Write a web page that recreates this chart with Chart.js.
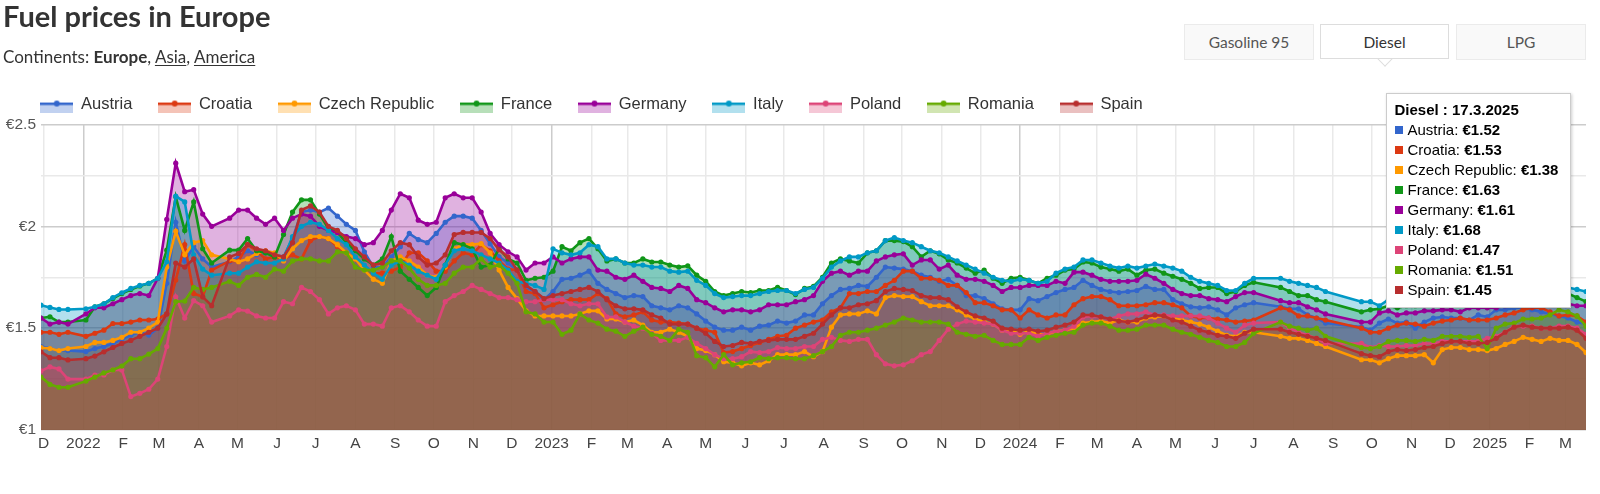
<!DOCTYPE html>
<html>
<head>
<meta charset="utf-8">
<title>Fuel prices in Europe</title>
<script src="https://cdn.jsdelivr.net/npm/chart.js@4/dist/chart.umd.js"></script>
<style>
  html, body { margin: 0; padding: 0; background: #fff; }
  #page { position: relative; width: 1600px; height: 494px; overflow: hidden; font-family: Lato, sans-serif; color: #333; }
  #chartBox { position: absolute; left: 0; top: 0; width: 1600px; height: 494px; }
  h1 { position: absolute; left: 3px; top: -2px; margin: 0; font-size: 29px; line-height: 36px; font-weight: 700; color: #333; }
  #continents { position: absolute; left: 3px; top: 45px; font-size: 17px; line-height: 24px; color: #333; }
  #continents u { text-underline-offset: 2px; }
  .tab { position: absolute; top: 24px; width: 128px; height: 34px; line-height: 34px; text-align: center; font-size: 15.5px; color: #555; background: #f9f9f9; border: 1px solid #ebebeb; }
  .tab.on { background: #fff; color: #333; border: 1.5px solid #ddd; width: 127px; height: 33px; }
  #arrow { position: absolute; left: 1379px; top: 53px; width: 11px; height: 11px; background: #fff; border-right: 1.5px solid #ddd; border-bottom: 1.5px solid #ddd; transform: rotate(45deg) scale(0.9, 0.9); }
  #tip { position: absolute; left: 1386px; top: 93px; width: 185px; height: 215px; box-sizing: border-box; background: #fff; border: 1.5px solid #ccc; box-shadow: 1px 1px 3px rgba(0,0,0,0.2); padding: 6px 0 0 7.5px; font-family: "Liberation Sans", Arial, sans-serif; font-size: 15px; line-height: 20px; color: #000; white-space: nowrap; }
  #tip i { display: inline-block; width: 8.5px; height: 8.5px; margin-right: 4.5px; vertical-align: 1px; }
</style>
</head>
<body>
<div id="page">
  <div id="chartBox"><canvas id="fuelChart"></canvas></div>
  <h1>Fuel prices in Europe</h1>
  <div id="continents">Continents: <b>Europe</b>, <u>Asia</u>, <u>America</u></div>
  <div class="tab" style="left:1184px">Gasoline 95</div>
  <div id="arrow"></div>
  <div class="tab on" style="left:1320px">Diesel</div>
  <div class="tab" style="left:1456px">LPG</div>
  <div id="tip"></div>
</div>
<script>
const dates = [
  "2021-11-29","2021-12-06","2021-12-13","2021-12-20","2022-01-03","2022-01-10","2022-01-17","2022-01-24","2022-01-31","2022-02-07","2022-02-14","2022-02-21","2022-02-28","2022-03-07","2022-03-14","2022-03-21","2022-03-28","2022-04-04","2022-04-11","2022-04-25","2022-05-02","2022-05-09","2022-05-16",
  "2022-05-23","2022-05-30","2022-06-06","2022-06-13","2022-06-20","2022-06-27","2022-07-04","2022-07-11","2022-07-18","2022-07-25","2022-08-01","2022-08-08","2022-08-15","2022-08-22","2022-08-29","2022-09-05","2022-09-12","2022-09-19","2022-09-26","2022-10-03","2022-10-10","2022-10-17","2022-10-24","2022-10-31",
  "2022-11-07","2022-11-14","2022-11-21","2022-11-28","2022-12-05","2022-12-12","2022-12-19","2022-12-26","2023-01-02","2023-01-09","2023-01-16","2023-01-23","2023-01-30","2023-02-06","2023-02-13","2023-02-20","2023-02-27","2023-03-06","2023-03-13","2023-03-20","2023-03-27","2023-04-03","2023-04-10",
  "2023-04-17","2023-04-24","2023-05-01","2023-05-08","2023-05-15","2023-05-22","2023-05-29","2023-06-05","2023-06-12","2023-06-19","2023-06-26","2023-07-03","2023-07-10","2023-07-17","2023-07-24","2023-07-31","2023-08-07","2023-08-14","2023-08-21","2023-08-28","2023-09-04","2023-09-11","2023-09-18","2023-09-25",
  "2023-10-02","2023-10-09","2023-10-16","2023-10-23","2023-10-30","2023-11-06","2023-11-13","2023-11-20","2023-11-27","2023-12-04","2023-12-11","2023-12-18","2023-12-25","2024-01-01","2024-01-08","2024-01-15","2024-01-22","2024-01-29","2024-02-05","2024-02-12","2024-02-19","2024-02-26","2024-03-04","2024-03-11",
  "2024-03-18","2024-03-25","2024-04-01","2024-04-08","2024-04-15","2024-04-22","2024-04-29","2024-05-06","2024-05-13","2024-05-20","2024-05-27","2024-06-03","2024-06-10","2024-06-17","2024-06-24","2024-07-01","2024-07-22","2024-07-29","2024-08-05","2024-08-12","2024-08-19","2024-08-26",
  "2024-09-23","2024-09-30","2024-10-07","2024-10-14","2024-10-21","2024-10-28","2024-11-04","2024-11-11","2024-11-18","2024-11-25","2024-12-02","2024-12-09","2024-12-16","2024-12-23","2024-12-30","2025-01-06","2025-01-13","2025-01-20","2025-01-27","2025-02-03","2025-02-10","2025-02-17","2025-02-24","2025-03-03","2025-03-10","2025-03-17"
];

const austria = [
  1.41,1.40,1.39,1.39,1.385,1.40,1.41,1.425,1.445,1.466,1.48,1.466,1.50,1.72,2.02,1.83,1.90,1.84,1.80,1.826,1.85,1.88,1.86,
  1.87,1.86,1.85,1.94,2.07,2.08,2.07,2.09,2.05,2.01,1.98,1.875,1.80,1.80,1.85,1.90,1.965,1.935,1.92,1.965,2.02,2.05,2.05,2.04,
  1.98,1.915,1.85,1.82,1.785,1.70,1.68,1.64,1.68,1.74,1.745,1.76,1.78,1.72,1.69,1.67,1.65,1.66,1.655,1.61,1.60,1.59,1.61,
  1.60,1.57,1.535,1.505,1.49,1.49,1.505,1.49,1.51,1.515,1.535,1.525,1.535,1.565,1.565,1.62,1.66,1.69,1.695,1.71,1.705,1.75,1.80,1.795,
  1.79,1.78,1.76,1.75,1.73,1.74,1.71,1.66,1.66,1.645,1.62,1.595,1.59,1.59,1.645,1.635,1.655,1.675,1.69,1.70,1.735,1.71,1.69,1.68,
  1.675,1.68,1.685,1.705,1.69,1.69,1.64,1.62,1.605,1.60,1.605,1.59,1.565,1.60,1.615,1.625,1.605,1.595,1.595,1.565,1.55,1.525,
  1.505,1.49,1.525,1.545,1.525,1.53,1.50,1.53,1.55,1.555,1.55,1.55,1.54,1.565,1.555,1.59,1.59,1.60,1.60,1.59,1.58,1.57,1.56,1.55,1.53,1.52
];
const croatia = [
  1.48,1.48,1.47,1.48,1.46,1.475,1.49,1.523,1.523,1.53,1.54,1.54,1.545,1.57,1.736,1.91,1.67,1.654,1.785,1.83,1.83,1.91,1.88,
  1.84,1.85,1.84,1.86,1.84,1.93,1.95,1.94,1.90,1.87,1.84,1.80,1.77,1.77,1.78,1.80,1.87,1.87,1.83,1.78,1.78,1.83,1.87,1.86,
  1.91,1.88,1.83,1.79,1.785,1.68,1.67,1.60,1.615,1.63,1.64,1.64,1.64,1.67,1.645,1.57,1.555,1.565,1.58,1.54,1.53,1.53,1.525,
  1.52,1.50,1.49,1.48,1.38,1.385,1.40,1.415,1.43,1.445,1.46,1.465,1.50,1.515,1.53,1.54,1.58,1.60,1.67,1.67,1.68,1.68,1.71,1.735,
  1.78,1.78,1.745,1.745,1.735,1.71,1.71,1.675,1.625,1.625,1.61,1.59,1.59,1.55,1.59,1.565,1.55,1.565,1.565,1.615,1.645,1.655,1.655,1.64,
  1.61,1.61,1.61,1.615,1.625,1.625,1.615,1.60,1.56,1.55,1.55,1.545,1.54,1.53,1.535,1.54,1.60,1.59,1.56,1.56,1.55,1.54,
  1.50,1.48,1.48,1.50,1.515,1.525,1.52,1.51,1.525,1.535,1.54,1.55,1.54,1.54,1.54,1.55,1.565,1.575,1.59,1.60,1.60,1.58,1.56,1.565,1.56,1.53
];
const czech = [
  1.404,1.40,1.39,1.40,1.41,1.43,1.43,1.44,1.455,1.48,1.48,1.50,1.53,1.80,1.976,1.86,1.92,1.93,1.86,1.84,1.826,1.84,1.867,
  1.88,1.87,1.83,1.89,1.93,1.95,1.95,1.94,1.91,1.87,1.84,1.785,1.74,1.72,1.83,1.85,1.83,1.80,1.76,1.75,1.80,1.89,1.91,1.91,
  1.915,1.87,1.785,1.70,1.645,1.585,1.56,1.56,1.56,1.56,1.56,1.57,1.585,1.585,1.545,1.545,1.53,1.54,1.515,1.48,1.48,1.495,1.48,
  1.46,1.40,1.39,1.37,1.335,1.33,1.315,1.33,1.32,1.34,1.37,1.37,1.37,1.385,1.36,1.385,1.505,1.565,1.57,1.57,1.585,1.57,1.65,1.66,
  1.655,1.655,1.63,1.61,1.61,1.61,1.59,1.565,1.545,1.53,1.52,1.49,1.49,1.47,1.485,1.47,1.47,1.485,1.49,1.50,1.525,1.53,1.535,1.525,
  1.54,1.53,1.53,1.55,1.555,1.56,1.55,1.54,1.53,1.52,1.505,1.485,1.465,1.46,1.48,1.48,1.46,1.45,1.45,1.44,1.425,1.41,
  1.345,1.345,1.33,1.35,1.365,1.365,1.365,1.37,1.33,1.395,1.405,1.405,1.395,1.395,1.39,1.40,1.42,1.435,1.455,1.445,1.435,1.45,1.44,1.44,1.42,1.38
];
const france = [
  1.55,1.556,1.53,1.53,1.54,1.605,1.62,1.646,1.67,1.69,1.707,1.72,1.745,1.883,2.145,1.98,2.12,1.89,1.82,1.883,1.883,1.94,1.88,
  1.87,1.85,1.96,2.07,2.13,2.13,2.06,1.99,1.97,1.92,1.88,1.84,1.81,1.84,1.95,1.78,1.74,1.70,1.66,1.70,1.81,1.92,1.91,1.89,
  1.80,1.81,1.89,1.84,1.82,1.735,1.745,1.75,1.78,1.90,1.88,1.92,1.94,1.89,1.83,1.84,1.82,1.82,1.84,1.825,1.825,1.81,1.80,
  1.806,1.76,1.73,1.68,1.66,1.67,1.68,1.675,1.685,1.685,1.70,1.685,1.665,1.695,1.705,1.75,1.82,1.84,1.83,1.82,1.87,1.88,1.93,1.93,
  1.925,1.90,1.85,1.88,1.865,1.835,1.82,1.795,1.77,1.785,1.745,1.72,1.745,1.75,1.735,1.72,1.745,1.76,1.785,1.79,1.825,1.82,1.80,1.79,
  1.78,1.79,1.76,1.785,1.79,1.77,1.755,1.74,1.72,1.695,1.70,1.70,1.67,1.68,1.71,1.725,1.70,1.68,1.66,1.66,1.64,1.63,
  1.58,1.59,1.595,1.61,1.60,1.61,1.61,1.62,1.62,1.63,1.63,1.62,1.63,1.64,1.64,1.65,1.66,1.67,1.68,1.68,1.69,1.69,1.68,1.67,1.65,1.63
];
const germany = [
  1.55,1.52,1.53,1.52,1.57,1.60,1.60,1.62,1.64,1.66,1.67,1.66,1.745,2.034,2.31,2.17,2.18,2.06,2.00,2.04,2.08,2.08,2.04,
  2.01,2.04,1.98,2.04,2.06,2.05,2.00,1.98,1.97,1.95,1.94,1.91,1.92,1.98,2.08,2.16,2.14,2.03,2.01,2.02,2.14,2.16,2.14,2.14,
  2.07,1.965,1.91,1.875,1.85,1.785,1.82,1.82,1.85,1.82,1.84,1.85,1.85,1.785,1.78,1.75,1.74,1.76,1.73,1.70,1.695,1.68,1.71,
  1.695,1.64,1.625,1.60,1.58,1.59,1.59,1.58,1.59,1.615,1.615,1.615,1.63,1.64,1.66,1.73,1.77,1.78,1.76,1.78,1.78,1.83,1.85,1.86,
  1.865,1.81,1.835,1.835,1.79,1.81,1.76,1.74,1.74,1.73,1.71,1.68,1.70,1.70,1.71,1.71,1.71,1.73,1.72,1.775,1.775,1.76,1.74,1.73,
  1.73,1.73,1.735,1.765,1.745,1.72,1.69,1.67,1.66,1.66,1.645,1.64,1.63,1.655,1.675,1.675,1.635,1.625,1.625,1.605,1.59,1.57,
  1.53,1.53,1.575,1.585,1.565,1.575,1.575,1.585,1.585,1.59,1.59,1.58,1.60,1.60,1.60,1.60,1.61,1.62,1.62,1.61,1.62,1.62,1.62,1.62,1.61,1.61
];
const italy = [
  1.613,1.602,1.592,1.592,1.595,1.605,1.62,1.65,1.674,1.695,1.71,1.72,1.745,1.826,2.148,2.12,1.86,1.79,1.76,1.77,1.77,1.80,1.826,
  1.82,1.82,1.84,1.95,2.00,2.02,2.01,1.98,1.94,1.91,1.85,1.81,1.77,1.74,1.81,1.83,1.81,1.78,1.76,1.74,1.81,1.88,1.89,1.88,
  1.86,1.84,1.82,1.785,1.73,1.72,1.71,1.69,1.89,1.87,1.86,1.87,1.91,1.90,1.84,1.84,1.82,1.81,1.81,1.80,1.80,1.78,1.775,
  1.78,1.735,1.71,1.67,1.65,1.655,1.66,1.66,1.67,1.68,1.685,1.685,1.67,1.69,1.70,1.745,1.80,1.83,1.85,1.85,1.87,1.88,1.93,1.945,
  1.93,1.92,1.90,1.88,1.87,1.85,1.83,1.81,1.79,1.77,1.75,1.735,1.73,1.74,1.735,1.72,1.73,1.77,1.79,1.80,1.835,1.835,1.82,1.805,
  1.795,1.805,1.795,1.805,1.815,1.805,1.795,1.78,1.75,1.73,1.72,1.71,1.685,1.685,1.72,1.745,1.745,1.73,1.72,1.71,1.70,1.68,
  1.63,1.63,1.61,1.64,1.63,1.64,1.64,1.65,1.65,1.66,1.66,1.65,1.66,1.67,1.67,1.68,1.69,1.70,1.71,1.71,1.72,1.72,1.71,1.70,1.69,1.68
];
const poland = [
  1.29,1.31,1.30,1.25,1.25,1.27,1.27,1.295,1.295,1.164,1.18,1.20,1.25,1.41,1.654,1.55,1.635,1.61,1.53,1.56,1.59,1.584,1.56,
  1.55,1.55,1.63,1.62,1.70,1.68,1.64,1.57,1.60,1.61,1.59,1.52,1.52,1.51,1.60,1.61,1.58,1.54,1.51,1.51,1.63,1.66,1.68,1.71,
  1.69,1.67,1.65,1.65,1.64,1.63,1.63,1.64,1.64,1.64,1.62,1.61,1.62,1.62,1.555,1.555,1.53,1.51,1.50,1.475,1.44,1.44,1.44,
  1.455,1.425,1.40,1.37,1.35,1.35,1.36,1.385,1.38,1.385,1.405,1.40,1.40,1.41,1.41,1.445,1.455,1.44,1.435,1.445,1.445,1.37,1.325,1.315,
  1.32,1.34,1.37,1.385,1.44,1.495,1.52,1.535,1.53,1.525,1.52,1.49,1.475,1.475,1.475,1.46,1.475,1.485,1.49,1.51,1.555,1.56,1.555,1.545,
  1.56,1.57,1.57,1.58,1.565,1.565,1.56,1.56,1.56,1.56,1.55,1.525,1.50,1.48,1.515,1.525,1.53,1.50,1.48,1.465,1.45,1.425,
  1.425,1.405,1.415,1.41,1.41,1.415,1.415,1.425,1.425,1.435,1.435,1.435,1.435,1.435,1.45,1.46,1.48,1.51,1.51,1.51,1.50,1.50,1.51,1.51,1.50,1.47
];
const romania = [
  1.26,1.224,1.21,1.21,1.24,1.26,1.28,1.295,1.314,1.35,1.35,1.373,1.40,1.50,1.63,1.633,1.70,1.69,1.70,1.73,1.71,1.75,1.764,
  1.75,1.79,1.78,1.83,1.84,1.84,1.83,1.83,1.875,1.87,1.80,1.785,1.785,1.80,1.83,1.83,1.795,1.74,1.71,1.71,1.72,1.77,1.80,1.80,
  1.84,1.80,1.81,1.77,1.72,1.58,1.57,1.53,1.53,1.47,1.49,1.57,1.54,1.525,1.495,1.485,1.46,1.485,1.505,1.47,1.46,1.44,1.495,
  1.48,1.365,1.355,1.31,1.37,1.32,1.33,1.335,1.355,1.35,1.355,1.355,1.35,1.35,1.365,1.385,1.41,1.465,1.48,1.48,1.49,1.50,1.515,1.53,
  1.55,1.54,1.53,1.53,1.53,1.52,1.48,1.47,1.46,1.465,1.44,1.42,1.42,1.42,1.455,1.44,1.455,1.465,1.475,1.48,1.515,1.525,1.525,1.51,
  1.49,1.49,1.495,1.515,1.515,1.515,1.495,1.48,1.47,1.455,1.44,1.43,1.41,1.41,1.43,1.475,1.53,1.51,1.50,1.49,1.50,1.46,
  1.405,1.40,1.41,1.435,1.44,1.44,1.435,1.445,1.44,1.46,1.46,1.46,1.455,1.46,1.40,1.50,1.52,1.525,1.545,1.545,1.55,1.565,1.59,1.58,1.56,1.51
];
const spain = [
  1.384,1.355,1.355,1.344,1.35,1.363,1.384,1.405,1.425,1.44,1.46,1.48,1.50,1.57,1.82,1.80,1.84,1.654,1.61,1.85,1.867,1.91,1.89,
  1.88,1.86,1.85,1.92,2.08,2.10,2.07,2.00,1.98,1.94,1.89,1.85,1.81,1.82,1.88,1.92,1.91,1.85,1.81,1.82,1.86,1.96,1.97,1.97,
  1.97,1.94,1.885,1.85,1.785,1.71,1.68,1.645,1.66,1.67,1.68,1.69,1.70,1.68,1.64,1.61,1.595,1.595,1.59,1.565,1.55,1.52,1.52,
  1.52,1.50,1.475,1.435,1.41,1.415,1.43,1.425,1.435,1.44,1.445,1.445,1.445,1.46,1.475,1.52,1.565,1.60,1.60,1.615,1.62,1.635,1.68,1.695,
  1.69,1.685,1.66,1.65,1.65,1.64,1.605,1.58,1.56,1.55,1.535,1.50,1.495,1.49,1.495,1.485,1.49,1.505,1.515,1.53,1.565,1.565,1.555,1.545,
  1.535,1.53,1.54,1.555,1.565,1.56,1.54,1.53,1.51,1.49,1.48,1.465,1.46,1.45,1.475,1.495,1.495,1.48,1.47,1.46,1.45,1.44,
  1.375,1.365,1.36,1.385,1.395,1.39,1.395,1.405,1.41,1.425,1.435,1.435,1.425,1.425,1.43,1.45,1.48,1.505,1.515,1.505,1.50,1.50,1.50,1.505,1.49,1.45
];

const seriesNames = ["Austria", "Croatia", "Czech Republic", "France", "Germany", "Italy", "Poland", "Romania", "Spain"];
const seriesValues = [austria, croatia, czech, france, germany, italy, poland, romania, spain];
const seriesColors = ["#3366cc", "#dc3912", "#ff9900", "#109618", "#990099", "#0099c6", "#dd4477", "#66aa00", "#b82e2e"];
const fillAlpha = 0.3;

// one label per month gridline, from 1 Dec 2021 on
const monthLabels = [
  "D",
  "2022","F","M","A","M","J","J","A","S","O","N","D",
  "2023","F","M","A","M","J","J","A","S","O","N","D",
  "2024","F","M","A","M","J","J","A","S","O","N","D",
  "2025","F","M"
];
const priceTicks = [1, 1.25, 1.5, 1.75, 2, 2.25, 2.5];
const priceLabels = ["€1", "", "€1.5", "", "€2", "", "€2.5"];

const toRgba = (hex, a) => {
    const n = parseInt(hex.slice(1), 16);
    return `rgba(${n >> 16},${(n >> 8) & 255},${n & 255},${a})`;
};

// legend key: line with a dot on top of a strip of the fill colour
const legendKey = (color) => {
    const c = document.createElement("canvas");
    c.width = 33;
    c.height = 16;
    const g = c.getContext("2d");
    g.fillStyle = toRgba(color, fillAlpha);
    g.fillRect(0, 7, 33, 9);
    g.fillStyle = color;
    g.fillRect(0, 6, 33, 2.5);
    g.beginPath();
    g.arc(16.5, 7, 3, 0, Math.PI * 2);
    g.fill();
    return c;
};

const datasets = seriesNames.map((name, i) => ({
    label: name,
    data: dates.map((d, k) => ({ x: Date.parse(d), y: seriesValues[i][k] })),
    borderColor: seriesColors[i],
    backgroundColor: toRgba(seriesColors[i], fillAlpha),
    pointBackgroundColor: seriesColors[i],
    pointBorderColor: seriesColors[i],
    borderWidth: 2.6,
    pointRadius: 2.6,
    pointBorderWidth: 0,
    pointHoverRadius: 2.6,
    pointHoverBorderWidth: 0,
    tension: 0,
    fill: "origin",
    order: seriesNames.length - i, // later countries paint over earlier ones
}));

const placeLegend = {
    id: "placeLegend",
    beforeLayout(chart) {
        const legend = chart.legend;
        if (!legend.origFit) {
            legend.origFit = legend.fit;
            legend.fit = function () {
                this.origFit();
                this.height = 54.5;
            };
        }
    },
    afterLayout(chart) {
        chart.legend.left = 14.5; // keys start over the plot, labels of the y axis keep their room
    },
};

const showTip = ({ tooltip }) => {
    const last = new Date(dates[dates.length - 1]);
    let html = `<b>Diesel : ${last.getUTCDate()}.${last.getUTCMonth() + 1}.${last.getUTCFullYear()}</b>`;
    tooltip.dataPoints.forEach((p) => {
        html += `<br><i style="background:${p.dataset.borderColor}"></i>${p.dataset.label}: <b>€${p.parsed.y.toFixed(2)}</b>`;
    });
    document.getElementById("tip").innerHTML = html;
};

const chart = new Chart(document.getElementById("fuelChart"), {
    type: "line",
    data: { datasets },
    plugins: [placeLegend],
    options: {
        responsive: true,
        maintainAspectRatio: false,
        animation: false,
        devicePixelRatio: 1,
        events: [],
        layout: { padding: { left: 0, right: 14, top: 70, bottom: 34 } },
        plugins: {
            title: { display: false },
            filler: { drawTime: "beforeDatasetsDraw" },
            legend: {
                position: "top",
                align: "start",
                labels: {
                    usePointStyle: true,
                    pointStyleWidth: 32,
                    padding: 26.3,
                    color: "#333",
                    font: { family: "'Liberation Sans', Arial, sans-serif", size: 16.5 },
                    generateLabels: () => seriesNames.map((name, i) => ({
                        text: name,
                        datasetIndex: i,
                        pointStyle: legendKey(seriesColors[i]),
                        fontColor: "#333",
                        lineWidth: 0,
                    })),
                },
            },
            tooltip: { enabled: false, mode: "index", external: showTip },
        },
        scales: {
            x: {
                type: "linear",
                min: Date.parse(dates[0]),
                max: Date.parse(dates[dates.length - 1]),
                afterBuildTicks: (scale) => {
                    scale.ticks = monthLabels.map((_, k) => ({ value: Date.UTC(2021, 11 + k, 1) }));
                },
                afterFit: (scale) => { scale.height = 30; },
                grid: {
                    drawTicks: false,
                    color: (ctx) => (ctx.index !== undefined && monthLabels[ctx.index].length > 1 ? "#cccccc" : "#e9e9e9"),
                    lineWidth: 1.5,
                },
                border: { display: false },
                ticks: {
                    autoSkip: false,
                    maxRotation: 0,
                    padding: 4.5,
                    color: "#444",
                    font: { family: "'Liberation Sans', Arial, sans-serif", size: 15.5 },
                    callback: (value, index) => monthLabels[index],
                },
            },
            y: {
                min: 1,
                max: 2.5,
                afterBuildTicks: (scale) => {
                    scale.ticks = priceTicks.map((value) => ({ value }));
                },
                afterFit: (scale) => { scale.width = 41; },
                grid: {
                    drawTicks: false,
                    color: (ctx) => (priceLabels[ctx.index] ? "#cccccc" : "#e9e9e9"),
                    lineWidth: 1.5,
                },
                border: { display: false },
                ticks: {
                    padding: 5,
                    color: "#555",
                    font: { family: "'Liberation Sans', Arial, sans-serif", size: 15.5 },
                    callback: (value, index) => priceLabels[index],
                },
            },
        },
    },
});

chart.tooltip.setActiveElements(
    seriesNames.map((_, i) => ({ datasetIndex: i, index: dates.length - 1 })),
    { x: 0, y: 0 }
);
chart.render();
</script>
</body>
</html>
